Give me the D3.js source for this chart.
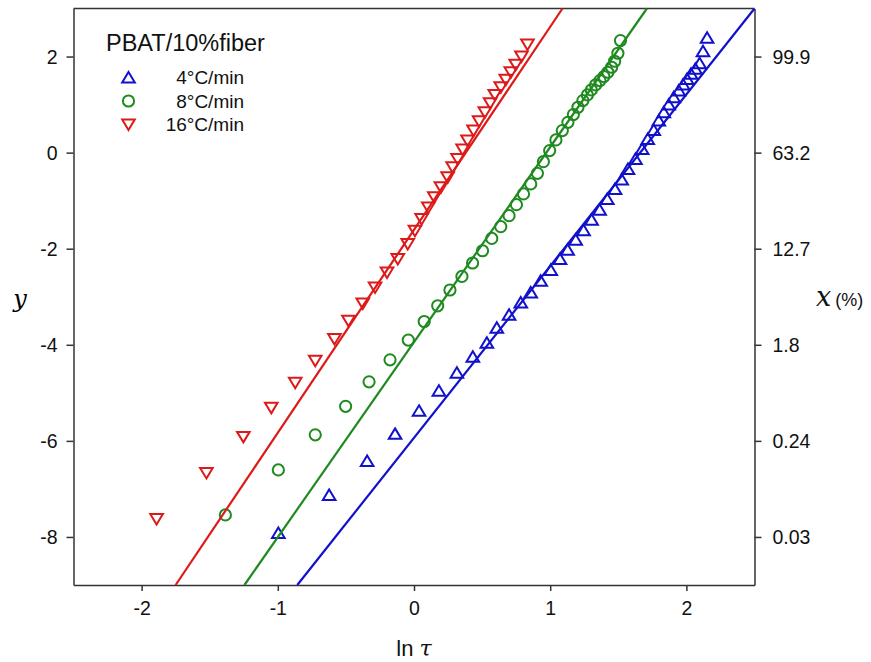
<!DOCTYPE html>
<html>
<head>
<meta charset="utf-8">
<script src="https://cdn.jsdelivr.net/npm/d3@7"></script>
<style>
  body { margin: 0; background: #fff; }
  .tick text { font-family: "Liberation Sans", Arial, sans-serif; font-size: 19.5px; fill: #111; }
  .domain, .tick line { stroke: #333; stroke-width: 1.5px; }
</style>
</head>
<body>
<div class="chart"></div>
<script>
// data: ln(tau) vs y, one array pair per heating rate
const rate4X = [-0.996, -0.623, -0.344, -0.139, 0.037, 0.183, 0.315, 0.432, 0.535, 0.608,
  0.698, 0.784, 0.857, 0.930, 1.004, 1.072, 1.128, 1.187, 1.245, 1.304,
  1.363, 1.419, 1.476, 1.525, 1.571, 1.626, 1.675, 1.716, 1.760, 1.797,
  1.834, 1.870, 1.907, 1.944, 1.976, 2.005, 2.034, 2.066, 2.097, 2.122, 2.152];
const rate4Y = [-7.917, -7.125, -6.417, -5.854, -5.375, -4.958, -4.583, -4.250, -3.958, -3.646,
  -3.375, -3.119, -2.910, -2.667, -2.444, -2.215, -2.021, -1.813, -1.615, -1.396,
  -1.188, -0.965, -0.756, -0.558, -0.340, -0.131, 0.077, 0.285, 0.473, 0.667,
  0.840, 1.000, 1.152, 1.292, 1.417, 1.535, 1.642, 1.744, 1.860, 2.110, 2.390];

const rate8X = [-1.385, -0.996, -0.725, -0.502, -0.330, -0.176, -0.042, 0.075, 0.174, 0.264,
  0.352, 0.430, 0.503, 0.571, 0.637, 0.698, 0.752, 0.804, 0.857, 0.906,
  0.950, 0.996, 1.042, 1.089, 1.130, 1.170, 1.204, 1.240, 1.273, 1.302,
  1.333, 1.365, 1.394, 1.423, 1.451, 1.473, 1.497, 1.516];
const rate8Y = [-7.542, -6.604, -5.875, -5.281, -4.771, -4.313, -3.902, -3.515, -3.188, -2.860,
  -2.577, -2.298, -2.042, -1.785, -1.542, -1.313, -1.083, -0.860, -0.652, -0.431,
  -0.188, 0.042, 0.265, 0.458, 0.631, 0.792, 0.944, 1.083, 1.202, 1.306,
  1.410, 1.500, 1.583, 1.673, 1.777, 1.902, 2.069, 2.333];

const rate16X = [-1.890, -1.524, -1.253, -1.048, -0.872, -0.725, -0.584, -0.481, -0.376, -0.286,
  -0.198, -0.119, -0.046, 0.007, 0.056, 0.105, 0.149, 0.198, 0.247, 0.284,
  0.320, 0.357, 0.393, 0.437, 0.478, 0.520, 0.559, 0.593, 0.637, 0.674,
  0.711, 0.747, 0.789, 0.833];
const rate16Y = [-7.625, -6.667, -5.917, -5.313, -4.792, -4.333, -3.881, -3.500, -3.140, -2.806,
  -2.494, -2.215, -1.902, -1.625, -1.381, -1.140, -0.931, -0.723, -0.515, -0.306,
  -0.131, 0.063, 0.250, 0.458, 0.652, 0.840, 1.027, 1.202, 1.360, 1.515,
  1.673, 1.827, 2.000, 2.250];

// fitted lines, end points in data units
const fit4 = [[-0.857, -9], [2.5, 3]];
const fit8 = [[-1.245, -9], [1.71, 3]];
const fit16 = [[-1.75, -9], [1.09, 3]];

const seriesNames = ["4°C/min", "8°C/min", "16°C/min"];
const xTicks = [-2, -1, 0, 1, 2];
const yTicks = [2, 0, -2, -4, -6, -8];
const rightTicks = [2, 0, -2, -4, -6, -8];
const rightLabels = ["99.9", "63.2", "12.7", "1.8", "0.24", "0.03"];

const width = 871;
const height = 662;
const margin = { left: 73.5, top: 8.5, right: 116.5, bottom: 77 };

const x = d3.scaleLinear().domain([-2.5, 2.5]).range([margin.left, width - margin.right]);
const y = d3.scaleLinear().domain([-9, 3]).range([height - margin.bottom, margin.top]);

const svg = d3.select(".chart").append("svg")
  .attr("width", width)
  .attr("height", height);

// axes
svg.append("g")
  .attr("transform", `translate(0,${y(-9)})`)
  .call(d3.axisBottom(x).tickValues(xTicks).tickFormat(d => String(d))
    .tickSize(6).tickSizeOuter(0).tickPadding(17));

svg.append("g")
  .attr("transform", `translate(${x(-2.5)},0)`)
  .call(d3.axisLeft(y).tickValues(yTicks).tickFormat(d => String(d))
    .tickSize(7).tickSizeOuter(0).tickPadding(9));

svg.append("g")
  .attr("transform", `translate(${x(2.5)},0)`)
  .call(d3.axisRight(y).tickValues(rightTicks).tickFormat((d, i) => rightLabels[i])
    .tickSize(7).tickSizeOuter(0).tickPadding(11));

// top frame line
svg.append("line")
  .attr("x1", x(-2.5)).attr("x2", x(2.5))
  .attr("y1", y(3)).attr("y2", y(3))
  .attr("stroke", "#333").attr("stroke-width", 1.5);

svg.selectAll(".tick text").attr("dy", null);
svg.selectAll(".tick text").attr("dominant-baseline", "central");

// axis titles
svg.append("text")
  .attr("x", 20).attr("y", y(-3.05))
  .attr("text-anchor", "middle")
  .attr("dominant-baseline", "central")
  .style("font-family", "'DejaVu Serif', serif")
  .style("font-style", "italic")
  .style("font-size", "24px")
  .text("y");

const xt = svg.append("text")
  .attr("x", x(0)).attr("y", 656)
  .attr("text-anchor", "middle")
  .style("font-family", "'Liberation Sans', Arial, sans-serif")
  .style("font-size", "22px")
  .style("fill", "#111");
xt.append("tspan").text("ln ");
xt.append("tspan").style("font-family", "'DejaVu Serif', serif").style("font-style", "italic").text("τ");

const rt = svg.append("text")
  .attr("x", 816).attr("y", 306)
  .style("fill", "#111");
rt.append("tspan")
  .style("font-family", "'DejaVu Serif', serif")
  .style("font-style", "italic")
  .style("font-size", "27px")
  .text("x");
rt.append("tspan")
  .attr("dx", 4)
  .style("font-family", "'Liberation Sans', Arial, sans-serif")
  .style("font-size", "18px")
  .text("(%)");

// markers
const upTri = "M0,-5.5L6.3,5L-6.3,5Z";
const downTri = "M0,5.5L6.3,-5L-6.3,-5Z";
const colors = ["#1111cc", "#1f8a1f", "#dd1a1a"];

const series = [
  { xs: rate4X, ys: rate4Y, fit: fit4, color: colors[0], shape: "up" },
  { xs: rate8X, ys: rate8Y, fit: fit8, color: colors[1], shape: "circle" },
  { xs: rate16X, ys: rate16Y, fit: fit16, color: colors[2], shape: "down" }
];

const line = d3.line().x(d => x(d[0])).y(d => y(d[1]));

series.forEach(s => {
  svg.append("path")
    .attr("d", line(s.fit))
    .attr("fill", "none")
    .attr("stroke", s.color)
    .attr("stroke-width", 2.2);

  const pts = s.xs.map((v, i) => [v, s.ys[i]]);
  const g = svg.append("g");
  if (s.shape === "circle") {
    g.selectAll("circle").data(pts).enter().append("circle")
      .attr("cx", d => x(d[0]))
      .attr("cy", d => y(d[1]))
      .attr("r", 5.6)
      .attr("fill", "none")
      .attr("stroke", s.color)
      .attr("stroke-width", 2);
  } else {
    g.selectAll("path").data(pts).enter().append("path")
      .attr("transform", d => `translate(${x(d[0])},${y(d[1])})`)
      .attr("d", s.shape === "up" ? upTri : downTri)
      .attr("fill", "none")
      .attr("stroke", s.color)
      .attr("stroke-width", 2);
  }
});

// legend
const legend = svg.append("g");
legend.append("text")
  .attr("x", 106).attr("y", 51)
  .style("font-family", "'Liberation Sans', Arial, sans-serif")
  .style("font-size", "23.5px")
  .style("fill", "#111")
  .text("PBAT/10%fiber");

series.forEach((s, i) => {
  const cy = 77.5 + i * 23.5;
  if (s.shape === "circle") {
    legend.append("circle")
      .attr("cx", 128.5).attr("cy", cy).attr("r", 5.6)
      .attr("fill", "none").attr("stroke", s.color).attr("stroke-width", 2);
  } else {
    legend.append("path")
      .attr("transform", `translate(128.5,${cy})`)
      .attr("d", s.shape === "up" ? upTri : downTri)
      .attr("fill", "none").attr("stroke", s.color).attr("stroke-width", 2);
  }
  legend.append("text")
    .attr("x", 244).attr("y", cy)
    .attr("text-anchor", "end")
    .attr("dominant-baseline", "central")
    .style("font-family", "'Liberation Sans', Arial, sans-serif")
    .style("font-size", "19px")
    .style("fill", "#111")
    .text(seriesNames[i]);
});
</script>
</body>
</html>
